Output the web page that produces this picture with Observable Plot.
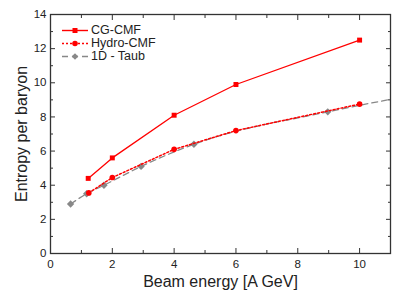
<!DOCTYPE html>
<html><head><meta charset="utf-8">
<script src="https://cdn.jsdelivr.net/npm/d3@7"></script>
<script src="https://cdn.jsdelivr.net/npm/@observablehq/plot@0.6"></script>
<style>
body{margin:0;background:#fff;font-family:"Liberation Sans",Arial,sans-serif}
#wrap{position:relative;width:415px;height:292px}
#legend{position:absolute;left:62px;top:24px;font-size:12.5px;color:#222;line-height:13px}
#legend div{display:flex;align-items:center;height:13px}
#legend svg{margin-right:3px}
</style>
</head><body><div id="wrap"><div id="legend"></div></div>
<script>
// Data
const cgX = [1.22, 2, 4, 6, 10];
const cgY = [4.4, 5.6, 8.1, 9.9, 12.5];
const hydroX = [1.24, 2, 4, 6, 10];
const hydroY = [3.55, 4.45, 6.1, 7.2, 8.75];
const taubX = [0.65, 1.17, 1.73, 2.93, 4.64, 8.97];
const taubY = [2.9, 3.5, 4.0, 5.1, 6.4, 8.3];
const taubEndX = 11, taubEndY = 9.03;
const xMajor = [0, 2, 4, 6, 8, 10];
const xMinor = [1, 3, 5, 7, 9, 11];
const yMajor = [0, 2, 4, 6, 8, 10, 12, 14];
const yMinor = [1, 3, 5, 7, 9, 11, 13];
const seriesNames = ["CG-CMF", "Hydro-CMF", "1D - Taub"];

const cg = cgX.map((x, i) => ({x, y: cgY[i]}));
const hydro = hydroX.map((x, i) => ({x, y: hydroY[i]}));
const taub = taubX.map((x, i) => ({x, y: taubY[i]}));
const taubLine = [...taub, {x: taubEndX, y: taubEndY}];

const red = "#ff0000", gray = "#888888", ink = "#222";

const plot = Plot.plot({
  width: 415, height: 292,
  marginLeft: 50, marginRight: 25, marginTop: 14, marginBottom: 39,
  style: {fontFamily: '"Liberation Sans", Arial, sans-serif', color: ink, background: "#fff"},
  x: {domain: [0, 11]},
  y: {domain: [0, 14]},
  marks: [
    Plot.axisX(xMajor, {anchor: "bottom", tickSize: -5, tickPadding: 11, fontSize: 11.5, label: null, stroke: "#333"}),
    Plot.axisX(xMinor, {anchor: "bottom", tickSize: -3, tickFormat: () => "", label: null, stroke: "#333"}),
    Plot.axisX(xMajor, {anchor: "top", tickSize: -5, tickFormat: () => "", label: null, stroke: "#333"}),
    Plot.axisX(xMinor, {anchor: "top", tickSize: -3, tickFormat: () => "", label: null, stroke: "#333"}),
    Plot.axisY(yMajor, {anchor: "left", tickSize: -5, tickPadding: 9, fontSize: 11.5, label: null, stroke: "#333"}),
    Plot.axisY(yMinor, {anchor: "left", tickSize: -3, tickFormat: () => "", label: null, stroke: "#333"}),
    Plot.axisY(yMajor, {anchor: "right", tickSize: -5, tickFormat: () => "", label: null, stroke: "#333"}),
    Plot.axisY(yMinor, {anchor: "right", tickSize: -3, tickFormat: () => "", label: null, stroke: "#333"}),
    Plot.frame({stroke: "#333", strokeWidth: 1.3}),
    Plot.line(taubLine, {x: "x", y: "y", stroke: gray, strokeWidth: 1.3, strokeDasharray: "6,4", curve: "monotone-x"}),
    Plot.dot(taub, {x: "x", y: "y", symbol: "diamond2", r: 3.3, fill: gray, stroke: "none"}),
    Plot.line(hydro, {x: "x", y: "y", stroke: red, strokeWidth: 1.5, strokeDasharray: "2,2"}),
    Plot.dot(hydro, {x: "x", y: "y", symbol: "circle", r: 2.8, fill: red, stroke: "none"}),
    Plot.line(cg, {x: "x", y: "y", stroke: red, strokeWidth: 1.3}),
    Plot.dot(cg, {x: "x", y: "y", symbol: "square", r: 2.8, fill: red, stroke: "none"}),
    Plot.text(["Beam energy [A GeV]"], {frameAnchor: "bottom", dy: 28, fontSize: 16, fill: ink, lineAnchor: "middle"}),
    Plot.text(["Entropy per baryon"], {frameAnchor: "left", dx: -29, rotate: -90, fontSize: 16, fill: ink, textAnchor: "middle"})
  ]
});
document.getElementById("wrap").prepend(plot);

// legend
const legendStyles = [
  {stroke: red, dash: "", sym: "square"},
  {stroke: red, dash: "2,2", sym: "circle"},
  {stroke: gray, dash: "6,4", sym: "diamond"}
];
const leg = document.getElementById("legend");
seriesNames.forEach((name, i) => {
  const s = legendStyles[i];
  let marker;
  if (s.sym === "square") marker = `<rect x="10.5" y="4" width="5" height="5" fill="${s.stroke}"/>`;
  else if (s.sym === "circle") marker = `<circle cx="13" cy="6.5" r="2.8" fill="${s.stroke}"/>`;
  else marker = `<path d="M13,3.2L16.3,6.5L13,9.8L9.7,6.5Z" fill="${s.stroke}"/>`;
  const row = document.createElement("div");
  row.innerHTML = `<svg width="26" height="13"><line x1="0" x2="26" y1="6.5" y2="6.5" stroke="${s.stroke}" stroke-width="1.4" ${s.dash ? `stroke-dasharray="${s.dash}"` : ""}/>${marker}</svg><span>${name}</span>`;
  leg.appendChild(row);
});
</script>
</body></html>
